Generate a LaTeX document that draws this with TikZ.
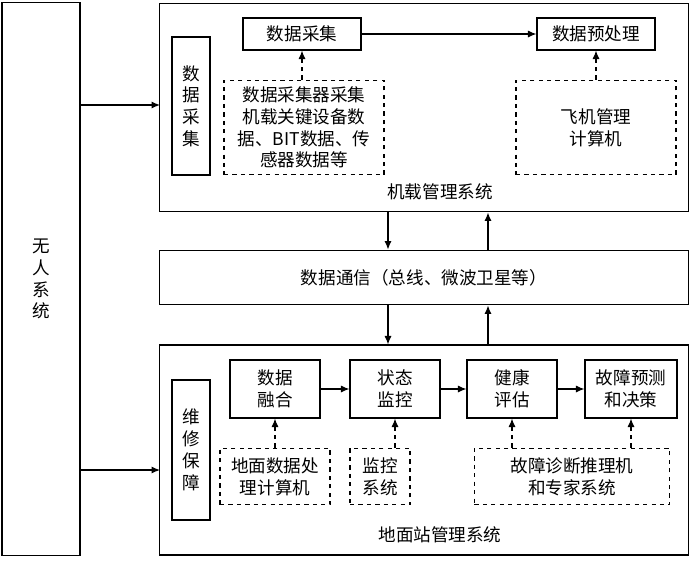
\documentclass[tikz,border=0pt]{standalone}
\usepackage{fontspec}
\newfontfamily\cjk{Noto Sans CJK SC}
\usetikzlibrary{positioning,arrows.meta}
\tikzset{>={Latex[length=6pt,width=5pt]}}
\tikzstyle{box}=[draw,thick,align=center,inner sep=1pt,font=\cjk\fontsize{12.5}{15.5}\selectfont]
\tikzstyle{dbox}=[box,dashed]
\tikzstyle{connect arrow}=[->,thick]
\tikzstyle{dash arrow}=[->,thick,dashed]
\begin{document}
\begin{tikzpicture}[x=0.025cm,y=-0.025cm]
\useasboundingbox (0,0) rectangle (692,562);

% system frames
\node [box, minimum width=1.95cm, minimum height=13.8cm] (U) at (41,279) {无\\人\\系\\统};
\node [box, minimum width=13.2cm, minimum height=5.22cm] (A) at (424,107.5) {};
\node [box, minimum width=13.2cm, minimum height=1.37cm] (D) at (424,277.5) {数据通信（总线、微波卫星等）};
\node [box, minimum width=13.2cm, minimum height=5.25cm] (G) at (424,450) {};
\node [font=\cjk\fontsize{12.5}{15}\selectfont] (AL) at (440,192) {机载管理系统};
\node [font=\cjk\fontsize{12.5}{15}\selectfont] (GL) at (440,535) {地面站管理系统};

% airborne side
\node [box, minimum width=0.95cm, minimum height=3.45cm] (S1) at (191,106) {数\\据\\采\\集};
\node [box, minimum width=2.95cm, minimum height=0.8cm] (C) at (302,34) {数据采集};
\node [box, minimum width=2.95cm, minimum height=0.8cm] (P) at (596,34) {数据预处理};
\node [dbox, minimum width=4cm, minimum height=2.37cm] (C1) at (304,127.5) {数据采集器采集\\机载关键设备数\\据、BIT数据、传\\感器数据等};
\node [dbox, minimum width=4cm, minimum height=2.37cm] (C2) at (596,127.5) {飞机管理\\计算机};

% ground side
\node [box, minimum width=0.95cm, minimum height=3.5cm] (S2) at (191,450) {维\\修\\保\\障};
\node [box, minimum width=2.25cm, minimum height=1.45cm] (F1) at (275,389) {数据\\融合};
\node [box, minimum width=2.25cm, minimum height=1.45cm] (F2) at (395,389) {状态\\监控};
\node [box, minimum width=2.25cm, minimum height=1.45cm] (F3) at (512,389) {健康\\评估};
\node [box, minimum width=2.3cm, minimum height=1.45cm] (F4) at (631,389) {故障预测\\和决策};
\node [dbox, minimum width=2.75cm, minimum height=1.42cm] (H1) at (275,476.5) {地面数据处\\理计算机};
\node [dbox, minimum width=1.5cm, minimum height=1.42cm] (H2) at (380,476.5) {监控\\系统};
\node [dbox, minimum width=4.88cm, minimum height=1.42cm] (H3) at (572,476.5) {故障诊断推理机\\和专家系统};

\coordinate (a1) at (80,105);  \coordinate (a2) at (160,105);
\coordinate (b1) at (80,470);  \coordinate (b2) at (160,470);

\begin{scope}[connect arrow]
    \draw (a1) -- (a2);
    \draw (b1) -- (b2);
    \draw (C) -- (P);
    \draw (F1) -- (F2);
    \draw (F2) -- (F3);
    \draw (F3) -- (F4);
    \draw (A.south -| 388,0) -- (D.north -| 388,0);
    \draw (D.north -| 488,0) -- (A.south -| 488,0);
    \draw (D.south -| 388,0) -- (G.north -| 388,0);
    \draw (G.north -| 488,0) -- (D.south -| 488,0);
\end{scope}

\begin{scope}[dash arrow]
    \draw (C1.north -| C) -- (C);
    \draw (C2) -- (P);
    \draw (H1) -- (F1);
    \draw (H2.north -| F2) -- (F2);
    \draw (H3.north -| F3) -- (F3);
    \draw (H3.north -| F4) -- (F4);
\end{scope}

\end{tikzpicture}
\end{document}
